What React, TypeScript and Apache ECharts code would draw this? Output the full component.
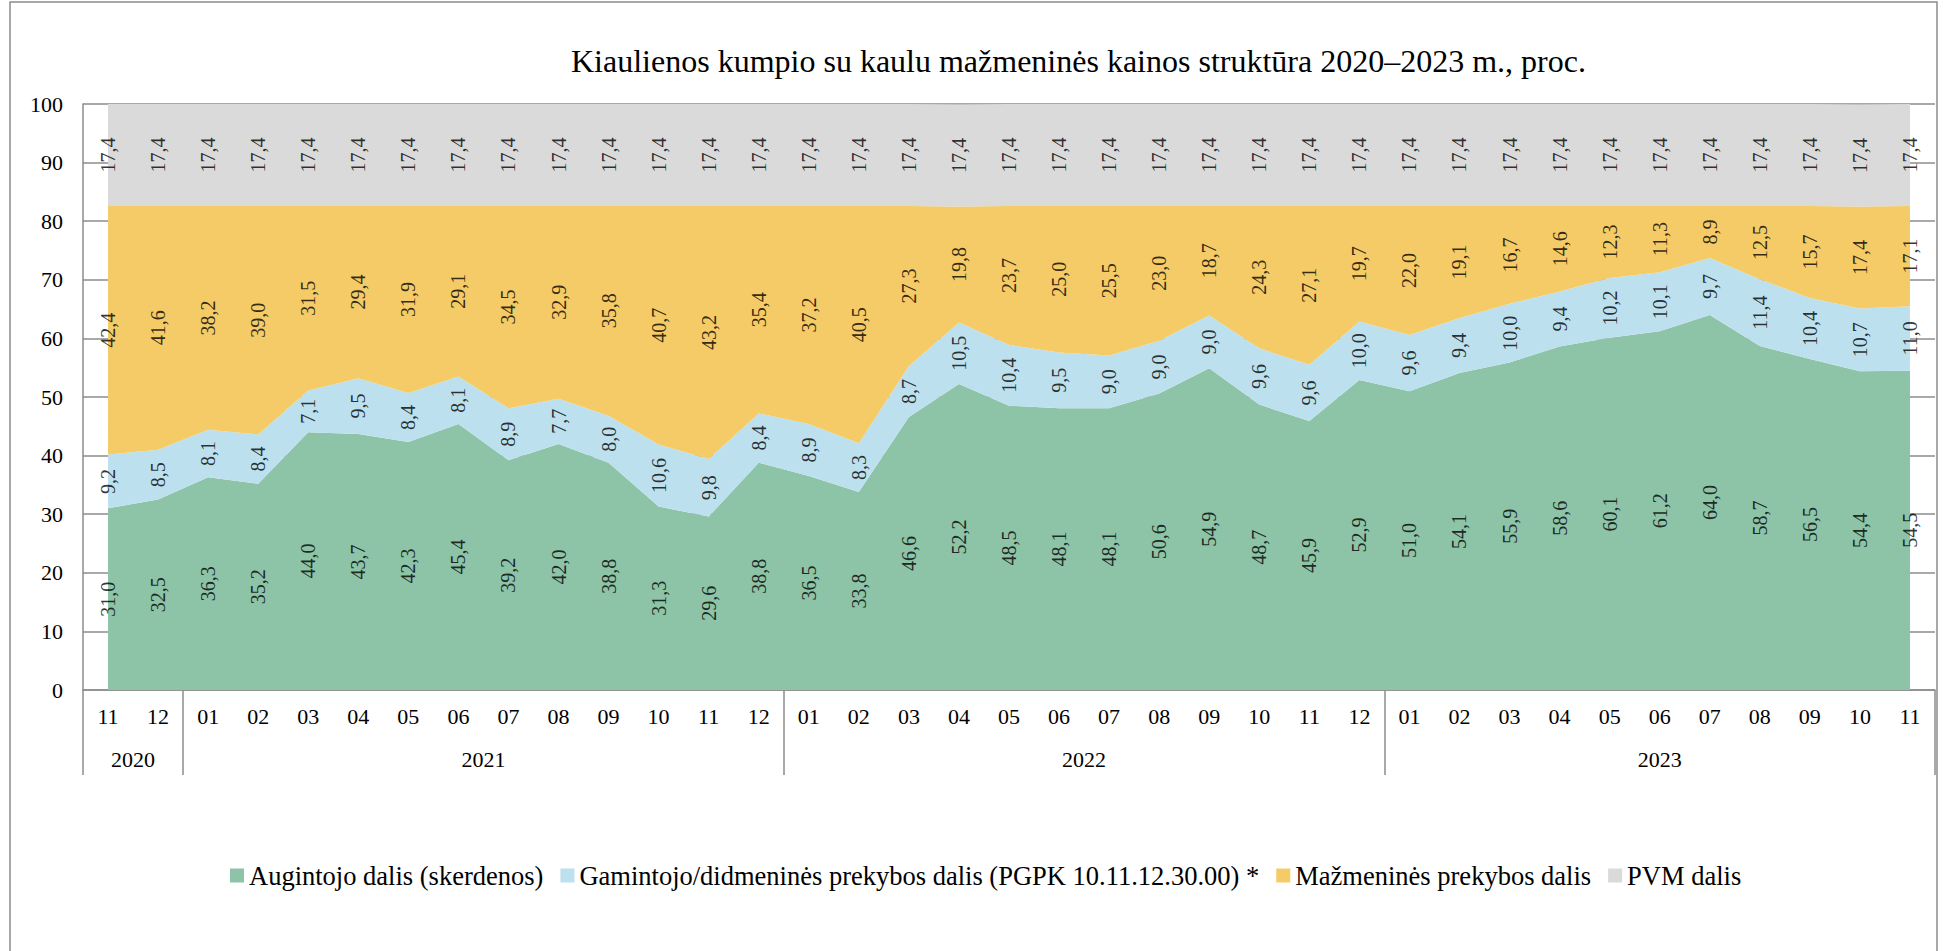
import React, { useEffect, useRef } from "react";
import * as echarts from "echarts";

const TITLE = "Kiaulienos kumpio su kaulu mažmeninės kainos struktūra 2020–2023 m., proc.";

const monthLabels = [
  "11", "12",
  "01", "02", "03", "04", "05", "06", "07", "08", "09", "10", "11", "12",
  "01", "02", "03", "04", "05", "06", "07", "08", "09", "10", "11", "12",
  "01", "02", "03", "04", "05", "06", "07", "08", "09", "10", "11",
];
const years = ["2020", "2021", "2022", "2023"];
const monthsPerYear = [2, 12, 12, 11];

const seriesNames = [
  "Augintojo dalis (skerdenos)",
  "Gamintojo/didmeninės prekybos dalis (PGPK 10.11.12.30.00) *",
  "Mažmeninės prekybos dalis",
  "PVM dalis",
];

const augintojo = [
  31.0, 32.5,
  36.3, 35.2, 44.0, 43.7, 42.3, 45.4, 39.2, 42.0, 38.8, 31.3, 29.6, 38.8,
  36.5, 33.8, 46.6, 52.2, 48.5, 48.1, 48.1, 50.6, 54.9, 48.7, 45.9, 52.9,
  51.0, 54.1, 55.9, 58.6, 60.1, 61.2, 64.0, 58.7, 56.5, 54.4, 54.5,
];
const gamintojo = [
  9.2, 8.5,
  8.1, 8.4, 7.1, 9.5, 8.4, 8.1, 8.9, 7.7, 8.0, 10.6, 9.8, 8.4,
  8.9, 8.3, 8.7, 10.5, 10.4, 9.5, 9.0, 9.0, 9.0, 9.6, 9.6, 10.0,
  9.6, 9.4, 10.0, 9.4, 10.2, 10.1, 9.7, 11.4, 10.4, 10.7, 11.0,
];
const mazmenines = [
  42.4, 41.6,
  38.2, 39.0, 31.5, 29.4, 31.9, 29.1, 34.5, 32.9, 35.8, 40.7, 43.2, 35.4,
  37.2, 40.5, 27.3, 19.8, 23.7, 25.0, 25.5, 23.0, 18.7, 24.3, 27.1, 19.7,
  22.0, 19.1, 16.7, 14.6, 12.3, 11.3, 8.9, 12.5, 15.7, 17.4, 17.1,
];
const pvm = [
  17.4, 17.4,
  17.4, 17.4, 17.4, 17.4, 17.4, 17.4, 17.4, 17.4, 17.4, 17.4, 17.4, 17.4,
  17.4, 17.4, 17.4, 17.4, 17.4, 17.4, 17.4, 17.4, 17.4, 17.4, 17.4, 17.4,
  17.4, 17.4, 17.4, 17.4, 17.4, 17.4, 17.4, 17.4, 17.4, 17.4, 17.4,
];

const colors = ["#8DC3A7", "#BDE0EF", "#F4CB66", "#DADADA"];
const FONT = "'Liberation Serif', 'Times New Roman', serif";
const GRID_COLOR = "#8C8C8C";

export default function App() {
  const ref = useRef<HTMLDivElement>(null);

  useEffect(() => {
    if (!ref.current) return;
    const chart = echarts.init(ref.current, undefined, { renderer: "svg" });

    const layers = [augintojo, gamintojo, mazmenines, pvm];
    const fmt = (v: number) => v.toFixed(1).replace(".", ",");

    // group boundaries and centres for year labels
    const bounds: number[] = [0];
    monthsPerYear.forEach((n) => bounds.push(bounds[bounds.length - 1] + n));
    const centers = monthsPerYear.map((n, i) => bounds[i] + n / 2);

    const areaSeries = layers.map((arr, k) => ({
      name: seriesNames[k],
      type: "line",
      stack: "total",
      data: arr,
      showSymbol: false,
      symbol: "none",
      lineStyle: { width: 0 },
      itemStyle: { color: colors[k] },
      areaStyle: { color: colors[k], opacity: 1 },
      silent: true,
      z: 2,
    }));

    const labelSeries = layers.map((arr, k) => ({
      name: "lbl" + k,
      type: "scatter",
      symbolSize: 0,
      silent: true,
      z: 5,
      data: arr.map((v, i) => {
        let base = 0;
        for (let j = 0; j < k; j++) base += layers[j][i];
        return [i, base + v / 2, v];
      }),
      label: {
        show: true,
        position: "inside",
        rotate: 90,
        color: "#000",
        fontFamily: FONT,
        fontSize: 20,
        formatter: (p: any) => fmt(p.value[2]),
      },
    }));

    chart.setOption({
      animation: false,
      backgroundColor: "#fff",
      color: colors,
      title: {
        text: TITLE,
        left: 566,
        top: 40,
        textStyle: { fontFamily: FONT, fontSize: 32, fontWeight: "normal", color: "#000" },
      },
      legend: {
        data: seriesNames,
        left: 225,
        top: 857,
        icon: "rect",
        itemWidth: 14,
        itemHeight: 14,
        itemGap: 17,
        textStyle: { fontFamily: FONT, fontSize: 26.5, color: "#000" },
      },
      grid: { left: 83, right: 8, top: 104, bottom: 261, containLabel: false },
      xAxis: [
        {
          type: "category",
          data: monthLabels,
          boundaryGap: true,
          axisLine: { show: true, lineStyle: { color: GRID_COLOR, width: 1.5 } },
          axisTick: { show: false },
          axisLabel: {
            interval: 0,
            margin: 15,
            color: "#000",
            fontFamily: FONT,
            fontSize: 22,
          },
          splitLine: { show: false },
        },
        {
          type: "value",
          position: "bottom",
          min: 0,
          max: bounds[bounds.length - 1],
          axisLine: { show: false },
          axisTick: {
            show: true,
            customValues: bounds,
            length: 85,
            lineStyle: { color: GRID_COLOR, width: 1.5 },
          },
          axisLabel: {
            show: true,
            customValues: centers,
            margin: 58,
            color: "#000",
            fontFamily: FONT,
            fontSize: 22,
            formatter: (val: number) => {
              const idx = centers.findIndex((c) => Math.abs(c - val) < 1e-6);
              return idx >= 0 ? years[idx] : "";
            },
          },
          splitLine: { show: false },
        },
      ],
      yAxis: {
        type: "value",
        min: 0,
        max: 100,
        interval: 10,
        axisLine: { show: true, lineStyle: { color: GRID_COLOR, width: 1.5 } },
        axisTick: { show: false },
        axisLabel: {
          margin: 20,
          color: "#000",
          fontFamily: FONT,
          fontSize: 22,
        },
        splitLine: { show: true, lineStyle: { color: GRID_COLOR, width: 1.5 } },
      },
      graphic: [
        {
          type: "rect",
          shape: { x: 10, y: 2, width: 1927, height: 1000 },
          style: { fill: "none", stroke: GRID_COLOR, lineWidth: 1.5 },
          silent: true,
          z: -1,
        },
      ],
      series: [...areaSeries, ...labelSeries],
    });

    return () => chart.dispose();
  }, []);

  return (
    <div
      ref={ref}
      style={{ position: "fixed", left: 0, top: 0, width: 1943, height: 951 }}
    />
  );
}
